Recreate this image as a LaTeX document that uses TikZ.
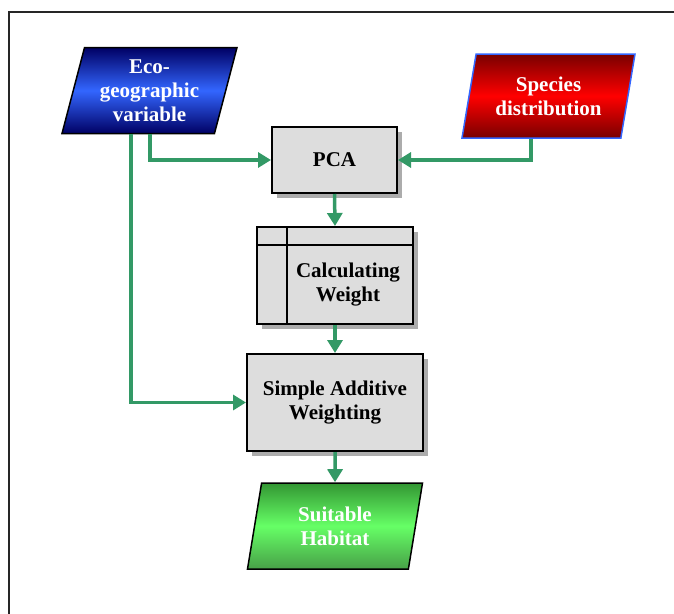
\documentclass[tikz,border=0pt]{standalone}
\usepackage{fontspec}
\setmainfont{Liberation Serif}
\usetikzlibrary{shapes.geometric,arrows.meta,shadows}
\definecolor{flowgreen}{RGB}{51,153,102}
\definecolor{boxgray}{RGB}{221,221,221}
\definecolor{ecoblue}{RGB}{51,102,255}
\definecolor{econavy}{RGB}{0,0,100}
\definecolor{spred}{RGB}{255,0,0}
\definecolor{spdark}{RGB}{120,0,0}
\definecolor{habgreen}{RGB}{102,255,102}
\definecolor{habdark}{RGB}{51,150,51}

\begin{document}
\begin{tikzpicture}[x=1pt, y=-1pt,
    boldtext/.style={font=\fontsize{21}{24}\selectfont\bfseries, align=center},
    proc/.style={draw=black, line width=2pt, fill=boxgray, boldtext, inner sep=0pt,
      drop shadow={shadow xshift=5pt, shadow yshift=-5pt, fill=gray!65, opacity=1}},
    data/.style={trapezium, trapezium left angle=70, trapezium right angle=110,
      trapezium stretches body, inner sep=0pt, minimum height=86pt, minimum width=175pt,
      boldtext, text=white, line width=1.5pt},
    flow/.style={draw=flowgreen, line width=3.5pt, -{Triangle[length=13pt,width=15pt]}}]
    \useasboundingbox (0,0) rectangle (674,613);
    % outer frame
    \draw[line width=1.8pt, black!85] (9,620) -- (9,12) -- (680,12);

    % inputs
    \node[data, draw=black, top color=econavy, bottom color=econavy, middle color=ecoblue]
        (eco) at (149.5,90.5) {Eco-\\geographic\\variable};
    \node[data, draw=ecoblue, minimum height=84pt, minimum width=173pt,
        top color=spdark, bottom color=spdark, middle color=spred]
        (species) at (548.5,96) {Species\\distribution};

    % processing steps
    \node[proc, minimum width=125pt, minimum height=66pt] (pca) at (334.5,160) {PCA};
    \node[proc, minimum width=156pt, minimum height=97pt] (calc) at (335,275.5) {};
    \draw[line width=2pt] ([yshift=-19pt]calc.north west) -- ([yshift=-19pt]calc.north east);
    \draw[line width=2pt] ([xshift=31pt]calc.north west) -- ([xshift=31pt]calc.south west);
    \node[boldtext] (calctext) at ([xshift=13pt,yshift=-9.5pt]calc.center) {Calculating\\Weight};
    \node[proc, minimum width=176pt, minimum height=97pt] (saw) at (335,402.5) {Simple Additive\\Weighting};

    % output
    \node[data, draw=black, top color=habdark, bottom color=habdark!90, middle color=habgreen]
        (habitat) at (335,526) {Suitable\\Habitat};

    % connectors
    \draw[flow] ([xshift=0.5pt]eco.south) |- (pca.west);
    \draw[flow] ([xshift=-18.5pt]eco.south) |- (saw.west);
    \draw[flow] ([xshift=-17.5pt]species.south) |- (pca.east);
    \draw[flow] (pca.south) -- (calc.north);
    \draw[flow] (calc.south) -- (saw.north);
    \draw[flow] (saw.south) -- (habitat.north);
\end{tikzpicture}
\end{document}
